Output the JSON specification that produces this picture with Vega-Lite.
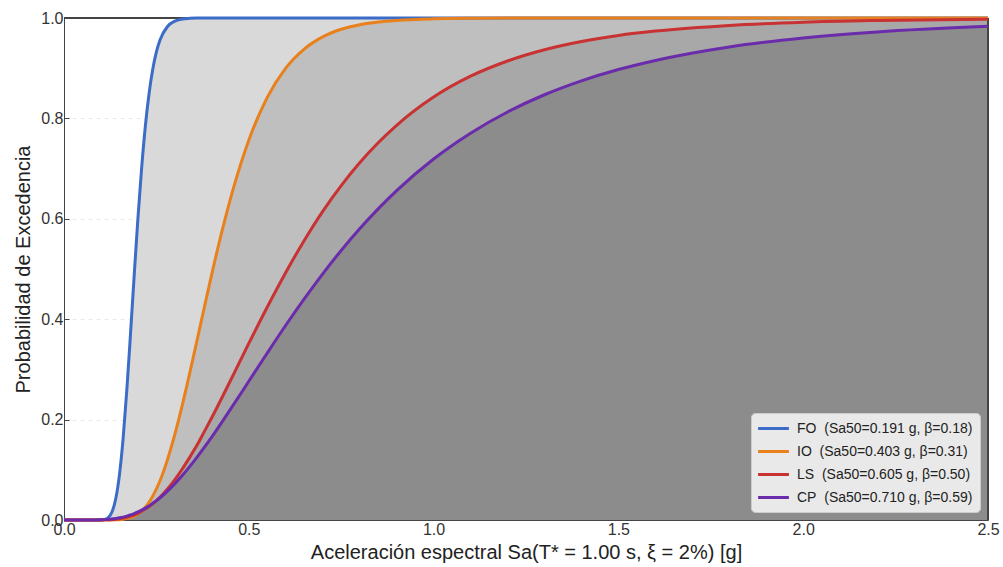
{
  "$schema": "https://vega.github.io/schema/vega-lite/v6.json",
  "width": 924,
  "height": 502,
  "padding": {"left": 64, "top": 18, "right": 15, "bottom": 47},
  "autosize": {"type": "none"},
  "background": "white",
  "config": {
    "view": {"stroke": null},
    "font": "Liberation Sans",
    "axis": {
      "labelFont": "Liberation Sans",
      "labelFontSize": 16,
      "labelColor": "#333333",
      "titleFont": "Liberation Sans",
      "titleFontSize": 20,
      "titleFontWeight": "normal",
      "titleColor": "#222222",
      "tickColor": "#444444",
      "domainColor": "#444444",
      "tickSize": -5,
      "labelPadding": 6,
      "grid": true,
      "gridDash": [4, 4],
      "gridColor": "#bbbbbb",
      "gridOpacity": 0.3,
      "zindex": 1,
      "labelFlush": false
    }
  },
  "data": {
    "values": [
      {"sa": 0.0, "FO": 0, "IO": 0, "LS": 0, "CP": 0},
      {"sa": 0.05, "FO": 0, "IO": 0, "LS": 0, "CP": 0},
      {"sa": 0.08, "FO": 0, "IO": 0, "LS": 0.00003, "CP": 0.0001},
      {"sa": 0.10, "FO": 0.0002, "IO": 0, "LS": 0.0002, "CP": 0.0004},
      {"sa": 0.11, "FO": 0.0011, "IO": 0, "LS": 0.0003, "CP": 0.0008},
      {"sa": 0.12, "FO": 0.0049, "IO": 0.00005, "LS": 0.0006, "CP": 0.0013},
      {"sa": 0.13, "FO": 0.0163, "IO": 0.0001, "LS": 0.0011, "CP": 0.0021},
      {"sa": 0.14, "FO": 0.0423, "IO": 0.0003, "LS": 0.0017, "CP": 0.0030},
      {"sa": 0.15, "FO": 0.0900, "IO": 0.0007, "LS": 0.0026, "CP": 0.0043},
      {"sa": 0.16, "FO": 0.1627, "IO": 0.0014, "LS": 0.0040, "CP": 0.0058},
      {"sa": 0.17, "FO": 0.2590, "IO": 0.0027, "LS": 0.0056, "CP": 0.0077},
      {"sa": 0.18, "FO": 0.3712, "IO": 0.0047, "LS": 0.0077, "CP": 0.0100},
      {"sa": 0.19, "FO": 0.4884, "IO": 0.0077, "LS": 0.0103, "CP": 0.0128},
      {"sa": 0.20, "FO": 0.6009, "IO": 0.0119, "LS": 0.0134, "CP": 0.0160},
      {"sa": 0.21, "FO": 0.7007, "IO": 0.0177, "LS": 0.0173, "CP": 0.0196},
      {"sa": 0.22, "FO": 0.7839, "IO": 0.0254, "LS": 0.0217, "CP": 0.0236},
      {"sa": 0.23, "FO": 0.8487, "IO": 0.0352, "LS": 0.0267, "CP": 0.0281},
      {"sa": 0.24, "FO": 0.8975, "IO": 0.0473, "LS": 0.0324, "CP": 0.0332},
      {"sa": 0.25, "FO": 0.9327, "IO": 0.0618, "LS": 0.0387, "CP": 0.0386},
      {"sa": 0.26, "FO": 0.9565, "IO": 0.0787, "LS": 0.0457, "CP": 0.0443},
      {"sa": 0.28, "FO": 0.9831, "IO": 0.1203, "LS": 0.0619, "CP": 0.0576},
      {"sa": 0.30, "FO": 0.9939, "IO": 0.1709, "LS": 0.0806, "CP": 0.0724},
      {"sa": 0.32, "FO": 0.9979, "IO": 0.2288, "LS": 0.1016, "CP": 0.0886},
      {"sa": 0.34, "FO": 0.9993, "IO": 0.2921, "LS": 0.1248, "CP": 0.1063},
      {"sa": 0.36, "FO": 0.9998, "IO": 0.3581, "LS": 0.1492, "CP": 0.1252},
      {"sa": 0.38, "FO": 0.9999, "IO": 0.4247, "LS": 0.1765, "CP": 0.1451},
      {"sa": 0.40, "FO": 1.0, "IO": 0.4904, "LS": 0.2041, "CP": 0.1656},
      {"sa": 0.43, "FO": 1.0, "IO": 0.5828, "LS": 0.2475, "CP": 0.1980},
      {"sa": 0.46, "FO": 1.0, "IO": 0.6651, "LS": 0.2921, "CP": 0.2312},
      {"sa": 0.50, "FO": 1.0, "IO": 0.7567, "LS": 0.3517, "CP": 0.2764},
      {"sa": 0.55, "FO": 1.0, "IO": 0.8420, "LS": 0.4243, "CP": 0.3327},
      {"sa": 0.60, "FO": 1.0, "IO": 0.9003, "LS": 0.4932, "CP": 0.3879},
      {"sa": 0.65, "FO": 1.0, "IO": 0.9382, "LS": 0.5568, "CP": 0.4404},
      {"sa": 0.70, "FO": 1.0, "IO": 0.9624, "LS": 0.6148, "CP": 0.4904},
      {"sa": 0.75, "FO": 1.0, "IO": 0.9775, "LS": 0.6662, "CP": 0.5370},
      {"sa": 0.80, "FO": 1.0, "IO": 0.9865, "LS": 0.7117, "CP": 0.5801},
      {"sa": 0.85, "FO": 1.0, "IO": 0.9920, "LS": 0.7515, "CP": 0.6198},
      {"sa": 0.90, "FO": 1.0, "IO": 0.9952, "LS": 0.7863, "CP": 0.6562},
      {"sa": 1.0, "FO": 1.0, "IO": 0.9983, "LS": 0.8426, "CP": 0.7192},
      {"sa": 1.1, "FO": 1.0, "IO": 0.9994, "LS": 0.8841, "CP": 0.7706},
      {"sa": 1.2, "FO": 1.0, "IO": 0.9998, "LS": 0.9144, "CP": 0.8128},
      {"sa": 1.3, "FO": 1.0, "IO": 0.9999, "LS": 0.9368, "CP": 0.8471},
      {"sa": 1.4, "FO": 1.0, "IO": 1.0, "LS": 0.9532, "CP": 0.8748},
      {"sa": 1.5, "FO": 1.0, "IO": 1.0, "LS": 0.9653, "CP": 0.8973},
      {"sa": 1.6, "FO": 1.0, "IO": 1.0, "LS": 0.9740, "CP": 0.9155},
      {"sa": 1.8, "FO": 1.0, "IO": 1.0, "LS": 0.9853, "CP": 0.9424},
      {"sa": 2.0, "FO": 1.0, "IO": 1.0, "LS": 0.9916, "CP": 0.9602},
      {"sa": 2.2, "FO": 1.0, "IO": 1.0, "LS": 0.9950, "CP": 0.9723},
      {"sa": 2.5, "FO": 1.0, "IO": 1.0, "LS": 0.9977, "CP": 0.9835}
    ]
  },
  "encoding": {
    "x": {
      "field": "sa",
      "type": "quantitative",
      "scale": {"domain": [0, 2.5], "nice": false, "zero": false},
      "axis": {
        "title": "Aceleración espectral Sa(T* = 1.00 s, ξ = 2%) [g]",
        "values": [0, 0.5, 1, 1.5, 2, 2.5],
        "format": ".1f",
        "titlePadding": 5
      }
    }
  },
  "layer": [
    {
      "mark": {"type": "area", "interpolate": "monotone", "color": "#d9d9d9"},
      "encoding": {
        "y": {
          "field": "FO", "type": "quantitative",
          "scale": {"domain": [0, 1], "nice": false},
          "axis": {"title": "Probabilidad de Excedencia", "values": [0, 0.2, 0.4, 0.6, 0.8, 1.0], "format": ".1f", "titlePadding": 7}
        }
      }
    },
    {
      "mark": {"type": "area", "interpolate": "monotone", "color": "#bfbfbf"},
      "encoding": {"y": {"field": "IO", "type": "quantitative", "title": "Probabilidad de Excedencia"}}
    },
    {
      "mark": {"type": "area", "interpolate": "monotone", "color": "#a8a8a8"},
      "encoding": {"y": {"field": "LS", "type": "quantitative", "title": "Probabilidad de Excedencia"}}
    },
    {
      "mark": {"type": "area", "interpolate": "monotone", "color": "#8c8c8c"},
      "encoding": {"y": {"field": "CP", "type": "quantitative", "title": "Probabilidad de Excedencia"}}
    },
    {
      "mark": {"type": "rule", "color": "#444444", "strokeWidth": 1},
      "encoding": {"y": {"datum": 1, "type": "quantitative", "title": "Probabilidad de Excedencia"}, "x": null}
    },
    {
      "mark": {"type": "rule", "color": "#444444", "strokeWidth": 1},
      "encoding": {"x": {"datum": 2.5, "type": "quantitative", "title": "Aceleración espectral Sa(T* = 1.00 s, ξ = 2%) [g]"}}
    },
    {
      "transform": [{"fold": ["FO", "IO", "LS", "CP"], "as": ["estado", "p"]}],
      "mark": {"type": "line", "interpolate": "monotone", "strokeWidth": 3},
      "encoding": {
        "y": {"field": "p", "type": "quantitative", "title": "Probabilidad de Excedencia"},
        "color": {
          "field": "estado",
          "type": "nominal",
          "scale": {"domain": ["FO", "IO", "LS", "CP"], "range": ["#3a6cc8", "#e8801c", "#c83232", "#6a2cab"]},
          "legend": {
            "title": null,
            "orient": "bottom-right",
            "offset": 8,
            "fillColor": "#e9e9e9",
            "strokeColor": "#cccccc",
            "cornerRadius": 4,
            "padding": 7,
            "labelFont": "Liberation Sans",
            "labelFontSize": 14,
            "labelColor": "#222222",
            "labelLimit": 400,
            "symbolType": "M-1.2,0H3.2",
            "symbolSize": 196,
            "symbolStrokeWidth": 3,
            "labelOffset": 22,
            "rowPadding": 7,
            "labelExpr": "{'FO': 'FO\u00a0 (Sa50=0.191 g, β=0.18)', 'IO': 'IO\u00a0 (Sa50=0.403 g, β=0.31)', 'LS': 'LS\u00a0 (Sa50=0.605 g, β=0.50)', 'CP': 'CP\u00a0 (Sa50=0.710 g, β=0.59)'}[datum.label]"
          }
        }
      }
    }
  ]
}
